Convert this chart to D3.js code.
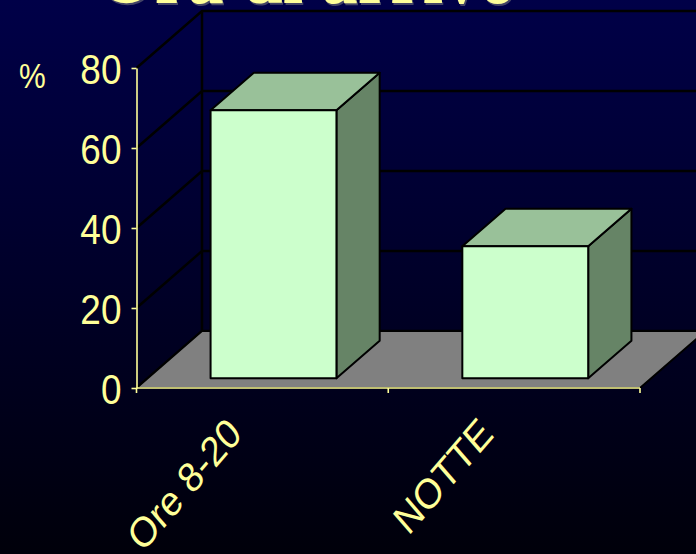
<!DOCTYPE html>
<html>
<head>
<meta charset="utf-8">
<script src="https://cdn.jsdelivr.net/npm/d3@7"></script>
<style>
  html, body { margin: 0; padding: 0; background: #000010; }
  svg { display: block; }
</style>
</head>
<body>
<svg id="chart" width="696" height="554"></svg>
<script>
// Arrival time share (%)
const title = "Ora di arrivo";
const yLabel = "%";
const categories = ["Ore 8-20", "NOTTE"];
const values = [67, 33];
const yTicks = [0, 20, 40, 60, 80];

const W = 696, H = 554;
const squash = 0.86;            // narrow text look
const depthX = 65.5, depthY = -57; // oblique depth of the floor
const barD0 = 0.17, barD1 = 0.83;  // bar depth within the floor

const svg = d3.select("#chart");

// background gradient
const defs = svg.append("defs");
const grad = defs.append("linearGradient").attr("id", "bg")
  .attr("x1", 0).attr("y1", 0).attr("x2", 0).attr("y2", 1);
grad.append("stop").attr("offset", "0%").attr("stop-color", "#000048");
grad.append("stop").attr("offset", "100%").attr("stop-color", "#00000a");
svg.append("rect").attr("width", W).attr("height", H).attr("fill", "url(#bg)");

const y = d3.scaleLinear().domain([0, 80]).range([388, 68]);
const x = d3.scaleBand().domain(categories).range([136.5, 640])
  .paddingInner(0.5).paddingOuter(0.25);
const step = x.step(), bw = x.bandwidth();
const gapHalf = (step - bw) / 2;
const xLeft = x.range()[0], xRight = x.range()[1];

// oblique projection: px along the front, value, depth fraction
const P = (px, v, d) => [px + d * depthX, y(v) + d * depthY];
const pts = arr => arr.map(p => p.join(",")).join(" ");

// walls: gridlines on side and back walls
const grid = svg.append("g").attr("fill", "none").attr("stroke", "#000").attr("stroke-width", 2.5);
yTicks.forEach(v => {
  const a = P(xLeft, v, 0), b = P(xLeft, v, 1);
  grid.append("polyline").attr("points", pts([a, b, [W + 40, b[1]]]));
});
grid.append("line")
  .attr("x1", P(xLeft, 0, 1)[0]).attr("y1", P(xLeft, 0, 1)[1])
  .attr("x2", P(xLeft, 80, 1)[0]).attr("y2", P(xLeft, 80, 1)[1]);

// floor
svg.append("polygon")
  .attr("points", pts([P(xLeft, 0, 0), P(xRight, 0, 0), P(xRight, 0, 1), P(xLeft, 0, 1)]))
  .attr("fill", "#808080").attr("stroke", "#000").attr("stroke-width", 2).attr("stroke-linejoin", "round");

// bars
const bars = svg.append("g").selectAll("g").data(categories.map((c, i) => ({ c, v: values[i] })))
  .join("g").attr("stroke", "#000").attr("stroke-width", 2).attr("stroke-linejoin", "round");
bars.append("polygon") // right side
  .attr("points", d => { const r = x(d.c) + bw; return pts([P(r, d.v, barD0), P(r, d.v, barD1), P(r, 0, barD1), P(r, 0, barD0)]); })
  .attr("fill", "#668466");
bars.append("polygon") // top
  .attr("points", d => { const l = x(d.c), r = l + bw; return pts([P(l, d.v, barD0), P(r, d.v, barD0), P(r, d.v, barD1), P(l, d.v, barD1)]); })
  .attr("fill", "#99c199");
bars.append("polygon") // front
  .attr("points", d => { const l = x(d.c), r = l + bw; return pts([P(l, d.v, barD0), P(r, d.v, barD0), P(r, 0, barD0), P(l, 0, barD0)]); })
  .attr("fill", "#ccffcc");

// axes
const axisColor = "#ffff99";
const yAxis = svg.append("g").attr("transform", `translate(${xLeft},0)`)
  .call(d3.axisLeft(y).tickValues(yTicks).tickSize(5).tickSizeOuter(0).tickPadding(0));
yAxis.select(".domain").attr("stroke", axisColor).attr("stroke-width", 1.6);
yAxis.selectAll(".tick line").attr("stroke", axisColor).attr("stroke-width", 1.6);
yAxis.selectAll(".tick text")
  .attr("fill", axisColor)
  .attr("font-family", "Liberation Sans, Arial, sans-serif")
  .attr("font-size", 43)
  .attr("x", -15 / squash)
  .attr("dy", "0.36em")
  .attr("transform", `scale(${squash},1)`);

const xTickPos = categories.map(c => x(c) - gapHalf).concat([x(categories[categories.length - 1]) + bw + gapHalf]);
const xAxis = svg.append("g");
xAxis.append("line").attr("x1", xLeft).attr("x2", xRight).attr("y1", y(0)).attr("y2", y(0))
  .attr("stroke", axisColor).attr("stroke-width", 1.6);
xAxis.selectAll("line.t").data(xTickPos).join("line").attr("class", "t")
  .attr("x1", d => d).attr("x2", d => d).attr("y1", y(0)).attr("y2", y(0) + 5)
  .attr("stroke", axisColor).attr("stroke-width", 1.6);

// category labels, rotated
svg.append("g").selectAll("text").data(categories).join("text")
  .attr("transform", c => `translate(${x(c) + bw / 2 - 19},436) scale(${squash},1) rotate(-45)`)
  .attr("text-anchor", "end")
  .attr("fill", axisColor)
  .attr("font-family", "Liberation Sans, Arial, sans-serif")
  .attr("font-size", 42)
  .text(c => c);

// unit label
svg.append("text")
  .attr("transform", `translate(19,88) scale(${squash},1)`)
  .attr("fill", axisColor)
  .attr("font-family", "Liberation Sans, Arial, sans-serif")
  .attr("font-size", 35)
  .text(yLabel);

// title (runs off the top edge)
const t = svg.append("g").attr("transform", `translate(307,3) scale(${squash},1)`);
t.append("text").attr("x", 1.5).attr("y", 1.5)
  .attr("text-anchor", "middle").attr("fill", "#444466")
  .attr("font-family", "Liberation Serif, Times New Roman, serif").attr("font-weight", "bold")
  .attr("font-size", 85).text(title);
t.append("text")
  .attr("text-anchor", "middle").attr("fill", "#ffff99")
  .attr("font-family", "Liberation Serif, Times New Roman, serif").attr("font-weight", "bold")
  .attr("font-size", 85).text(title);
</script>
</body>
</html>
